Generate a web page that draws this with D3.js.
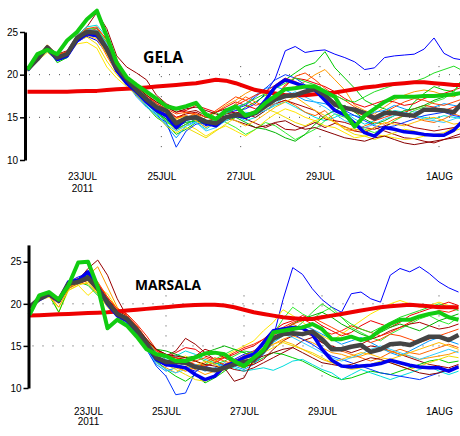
<!DOCTYPE html>
<html>
<head>
<meta charset="utf-8">
<script src="https://cdnjs.cloudflare.com/ajax/libs/d3/7.8.5/d3.min.js"></script>
<style>
body { margin: 0; background: #fff; }
svg { display: block; }
</style>
</head>
<body>
<div class="chart"></div>
<script>
// ---- data ----
var tickDates = [new Date(Date.UTC(2011,6,23)), new Date(Date.UTC(2011,6,25)), new Date(Date.UTC(2011,6,27)),
                 new Date(Date.UTC(2011,6,29)), new Date(Date.UTC(2011,7,1))];
var tickLabels = ["23JUL", "25JUL", "27JUL", "29JUL", "1AUG"];
var yTicks = [10, 15, 20, 25];

var memberColors = ["#0000ff","#990000","#ff9900","#ffe600","#00cc00","#00dddd","#ee0000","#0099ff","#33ee33","#ff6600",
                    "#aa0000","#0033ff","#ff2200","#eedd00","#00b400","#33ccff","#ff4400","#880000","#22dd22","#ffbb00"];

// GELA, 6-hourly from 21 Jul 15z
var gelaMean  = [20.6,21.8,23.2,22.0,22.4,24.3,25.0,24.9,23.0,20.8,19.5,18.2,17.1,16.2,15.8,14.3,14.9,15.0,14.5,14.3,15.0,15.3,15.2,15.5,16.3,17.1,17.5,17.6,18.0,18.3,17.6,16.5,16.1,15.9,15.5,14.9,15.5,15.5,15.3,15.2,15.9,15.9,15.8,15.6,16.9];
var gelaGreen = [20.6,22.4,22.9,22.4,24.0,25.0,26.5,27.5,24.5,21.4,19.7,18.8,18.0,17.2,16.3,16.0,16.3,16.7,15.3,14.8,15.8,16.3,15.2,15.6,16.7,17.5,18.3,18.4,18.6,18.6,18.0,17.4,15.5,13.9,15.2,16.0,16.8,17.4,17.4,17.4,17.5,17.5,17.6,17.7,17.9];
var gelaBlue  = [20.5,22.0,23.0,21.8,22.2,24.0,24.8,24.6,23.0,20.5,19.0,18.0,16.8,15.8,15.2,13.8,14.8,15.0,14.3,14.0,15.0,15.2,15.0,15.6,17.0,18.6,19.4,19.0,18.6,18.2,17.0,15.8,15.3,14.3,13.2,12.8,13.8,13.6,13.3,13.2,13.0,12.9,12.9,13.5,14.7];
var gelaClim  = [18.0,18.0,18.0,18.0,18.0,18.05,18.1,18.1,18.2,18.3,18.35,18.4,18.5,18.6,18.7,18.8,18.9,19.0,19.2,19.4,19.3,19.0,18.6,18.2,18.0,17.8,17.6,17.6,17.6,17.7,17.8,17.9,18.1,18.3,18.5,18.6,18.8,18.9,19.0,19.1,19.1,19.0,18.9,18.8,18.8];
var gelaMembers = [
  [20.7,22.0,23.0,21.6,22.0,23.8,24.5,24.0,22.5,20.6,19.0,18.0,16.8,15.6,14.8,13.6,14.2,14.8,14.0,14.6,15.4,15.8,16.0,16.6,17.8,19.6,22.8,23.3,22.6,22.8,22.9,22.4,22.0,21.5,20.6,20.8,22.0,22.2,22.3,22.4,23.0,24.3,22.5,21.9,21.7],
  [20.9,22.2,23.4,22.4,22.8,24.6,25.6,27.3,25.4,22.2,20.9,20.2,19.4,17.6,16.6,16.0,15.6,15.8,15.2,15.6,16.0,15.4,14.8,14.3,13.8,14.3,13.6,13.5,13.9,14.4,13.8,14.3,13.9,13.4,13.2,13.8,13.4,13.0,12.6,12.5,12.2,12.0,12.4,12.8,13.2],
  [20.8,22.1,23.5,22.3,22.6,24.6,25.3,25.2,23.6,21.2,19.6,18.4,17.0,15.9,15.0,14.8,15.6,15.2,14.2,15.6,16.4,17.0,17.8,18.4,17.6,17.2,18.3,18.6,19.2,20.0,20.6,19.4,18.2,16.4,15.8,15.4,16.2,17.0,17.6,18.0,18.2,18.0,17.6,17.4,18.0],
  [20.4,21.6,22.6,21.7,22.2,23.6,23.8,23.1,20.9,19.6,18.6,17.6,16.8,15.6,14.6,13.4,14.2,13.6,12.8,13.5,14.0,13.4,12.8,13.6,14.6,15.4,16.0,15.6,15.0,14.6,14.0,13.8,13.2,12.6,12.8,13.0,12.8,12.6,12.4,12.5,12.8,13.0,13.2,13.8,14.4],
  [20.6,21.9,23.1,21.4,22.0,24.0,24.6,24.6,22.8,20.6,19.2,17.6,16.3,15.0,14.2,13.0,13.6,14.4,15.0,15.6,14.8,15.4,16.2,16.8,17.6,18.6,19.4,20.2,21.0,21.4,22.7,20.8,19.6,18.4,17.0,16.4,16.0,15.6,15.2,16.8,17.8,18.6,18.2,18.0,19.8],
  [20.6,21.8,23.0,22.2,22.6,24.6,25.6,25.8,24.4,21.6,19.6,18.0,16.6,15.4,14.6,14.0,14.6,14.4,13.6,14.4,15.0,15.2,14.6,15.0,15.8,16.4,16.8,16.2,15.6,15.0,14.6,15.0,15.6,14.8,14.2,14.6,15.2,15.8,15.6,15.2,15.0,14.8,15.2,15.0,14.8],
  [20.8,22.0,23.4,22.2,22.6,24.4,25.0,25.0,23.8,21.4,19.8,18.6,17.6,16.8,16.2,15.6,15.8,16.4,16.0,15.6,16.2,16.8,16.4,16.0,16.6,17.4,18.8,19.6,19.4,19.0,18.6,18.0,17.2,16.6,16.2,16.6,17.0,16.8,16.4,16.6,17.2,17.6,17.8,18.2,18.6],
  [20.5,21.7,22.8,21.9,22.3,24.2,25.2,25.5,23.4,20.4,19.0,17.4,16.2,15.4,14.0,12.6,14.0,14.6,13.8,14.8,15.4,16.2,16.6,17.6,18.4,18.6,18.2,17.6,17.0,16.8,16.6,16.0,15.4,15.2,15.0,15.6,15.8,16.4,16.0,15.6,15.8,16.2,16.6,16.4,16.2],
  [20.5,21.8,23.0,22.0,22.4,24.4,25.4,25.4,23.8,21.2,19.8,18.8,17.4,15.8,14.4,13.8,14.6,15.2,15.6,15.0,14.4,13.8,13.0,13.6,14.4,14.0,13.2,12.4,13.0,13.6,14.6,15.4,15.0,14.2,13.6,13.2,13.8,14.6,15.2,15.8,16.2,16.8,17.2,18.0,19.4],
  [20.7,21.9,23.3,22.4,22.6,24.0,24.8,24.4,22.2,20.2,19.0,18.0,17.0,16.0,15.4,14.6,15.0,15.4,14.6,14.2,15.6,16.6,17.4,16.8,16.2,16.6,17.0,16.4,15.6,15.2,15.8,14.6,13.6,13.4,14.0,14.4,14.2,14.8,15.2,15.0,14.6,14.4,14.8,15.4,15.0],
  [20.6,21.8,23.0,22.0,22.4,24.2,24.8,24.8,23.2,21.0,19.6,18.4,17.4,16.6,16.0,15.0,15.4,15.6,15.0,14.8,15.4,15.6,15.4,15.0,15.8,16.6,17.0,16.6,16.2,15.8,14.8,14.6,14.4,14.0,13.8,13.6,14.0,14.4,14.2,13.8,13.6,13.4,13.6,13.8,14.2],
  [20.6,21.8,23.0,22.0,22.3,24.0,24.6,24.4,22.8,20.6,19.0,17.6,16.4,15.2,14.4,11.5,13.4,14.2,14.4,15.0,15.6,16.0,16.4,17.4,18.4,19.4,20.0,19.6,18.8,18.0,17.2,16.4,15.8,15.2,14.6,14.0,13.8,14.0,14.4,14.8,15.2,15.4,15.6,15.2,15.0],
  [20.7,22.0,23.2,22.2,22.4,24.2,25.0,25.4,24.2,21.8,19.8,18.2,17.2,16.4,15.6,15.0,15.2,14.8,14.4,15.0,15.6,16.4,17.0,17.6,18.0,18.8,19.6,19.2,18.6,18.2,17.6,16.8,16.2,15.6,15.2,14.6,15.0,15.4,15.6,16.0,16.4,16.2,15.8,16.2,16.6],
  [20.5,21.6,22.8,21.8,22.2,24.0,24.4,23.6,21.6,20.0,18.8,17.6,16.4,15.2,14.0,13.2,13.8,13.2,12.6,13.4,14.2,15.0,15.4,15.8,16.0,15.6,15.0,14.4,14.0,14.6,15.0,14.4,13.6,13.0,12.8,12.4,12.8,13.2,13.6,13.4,13.0,12.8,13.0,13.4,13.8],
  [20.6,21.8,23.0,22.0,22.4,24.2,24.8,24.6,23.0,20.8,19.2,17.8,16.6,15.6,14.8,14.0,14.4,14.6,14.2,14.0,14.6,15.0,14.4,13.8,13.6,13.2,12.6,12.2,13.0,14.2,15.2,15.8,16.4,15.6,14.8,14.2,14.6,15.2,15.8,16.0,16.4,17.0,17.4,17.8,17.6],
  [20.6,21.9,23.1,22.1,22.5,24.4,25.2,25.2,23.6,21.0,19.4,17.8,16.4,15.2,14.2,13.4,14.0,14.4,13.4,13.8,14.6,15.2,15.6,15.4,15.8,16.6,17.4,18.0,17.4,16.8,16.2,15.4,14.6,14.2,13.8,14.2,14.8,15.2,15.6,15.2,14.8,14.6,14.4,14.8,15.2],
  [20.8,22.1,23.3,22.3,22.7,24.5,25.4,25.6,24.0,21.4,19.8,18.6,17.6,16.6,16.0,15.4,15.6,15.4,15.0,15.8,16.6,17.4,17.0,16.4,16.8,17.6,18.6,19.8,20.2,19.4,18.4,17.6,17.0,16.2,15.6,15.2,15.6,16.2,16.8,17.2,17.0,16.6,16.4,16.8,17.2],
  [20.6,21.8,23.0,22.0,22.4,24.0,24.6,24.6,23.4,21.4,19.8,18.6,17.6,16.8,16.2,15.6,16.0,16.2,15.8,15.4,15.0,14.6,14.2,13.8,14.0,14.4,14.6,14.0,13.6,13.8,13.4,13.0,12.6,12.4,12.2,12.6,12.8,12.4,12.0,11.8,12.0,12.2,12.4,12.6,12.8],
  [20.6,21.9,23.0,22.1,22.5,24.3,25.0,24.8,22.8,20.4,19.0,17.8,16.8,15.6,14.6,13.6,14.2,14.8,14.4,14.8,15.4,16.0,16.6,17.2,17.8,18.4,19.0,19.6,19.2,18.8,18.2,17.6,17.0,16.8,17.4,18.0,18.4,18.8,19.0,19.2,19.6,20.2,20.6,21.0,20.4],
  [20.4,21.7,22.9,21.9,22.3,24.1,24.6,24.2,22.4,20.4,19.2,18.2,17.2,16.2,15.4,14.8,15.2,14.6,13.8,14.4,15.0,14.6,14.0,14.6,15.4,16.2,16.8,17.4,16.6,15.8,15.2,14.4,13.8,13.6,13.4,13.8,14.4,14.2,14.0,14.4,14.8,15.0,14.6,14.2,14.4]
];

// MARSALA, 6-hourly from 21 Jul 12z
var marsMean  = [19.6,20.6,21.2,20.4,22.4,22.6,23.1,21.8,20.2,18.8,18.2,16.9,15.3,13.6,13.1,13.1,13.0,12.5,12.3,12.1,12.4,12.8,13.1,13.3,14.4,15.9,16.4,16.5,16.4,16.7,15.8,14.6,14.6,14.9,15.1,14.3,14.6,15.2,15.3,15.1,15.6,16.1,16.1,15.7,16.3];
var marsGreen = [18.7,21.0,21.4,20.5,22.2,24.9,25.0,22.0,17.1,18.1,17.4,16.1,14.6,14.0,13.8,13.2,13.2,13.6,14.1,14.2,14.0,13.2,12.6,13.6,14.5,16.6,16.8,17.0,17.2,17.6,17.0,15.8,15.8,16.1,15.7,16.0,16.9,17.6,18.1,18.1,18.5,18.8,19.0,18.4,18.1];
var marsBlue  = [19.7,20.5,21.1,20.3,22.6,22.8,23.8,22.0,20.0,18.6,18.0,16.6,15.0,13.4,12.8,12.6,12.4,11.6,11.0,11.4,12.6,13.0,13.6,14.0,15.4,16.8,17.0,17.2,17.1,16.4,14.6,13.3,12.6,12.5,12.6,12.7,12.9,13.3,13.0,12.7,12.5,12.4,12.4,12.0,12.5];
var marsClim  = [18.6,18.65,18.7,18.75,18.8,18.85,18.9,18.95,19.0,19.1,19.2,19.3,19.4,19.5,19.6,19.7,19.8,19.85,19.9,19.9,19.8,19.6,19.3,19.0,18.8,18.6,18.4,18.3,18.2,18.2,18.4,18.6,18.8,19.0,19.2,19.4,19.6,19.7,19.8,19.9,19.8,19.7,19.6,19.6,19.6];
var marsMembers = [
  [19.8,20.7,21.3,20.4,22.6,23.2,23.6,22.0,20.0,18.6,17.8,16.4,14.8,13.2,12.6,12.8,12.4,12.0,12.6,13.0,12.6,13.4,14.0,14.4,15.2,16.0,20.5,24.3,23.5,21.8,20.5,19.6,19.0,21.2,21.4,20.6,20.2,23.4,24.2,23.8,24.4,23.6,22.6,21.9,21.4],
  [19.6,20.5,21.0,20.2,22.0,22.8,24.2,25.2,23.4,20.6,18.5,16.6,15.6,14.6,13.8,14.4,15.9,15.2,14.2,13.4,12.6,12.2,12.0,12.4,13.0,13.6,14.2,14.8,15.6,16.0,15.4,15.0,14.6,14.2,14.6,15.0,14.8,14.4,14.0,13.6,13.2,12.8,12.6,12.4,12.8],
  [19.7,20.6,21.1,20.3,22.4,23.0,23.4,24.4,22.0,19.6,18.4,16.8,14.8,13.0,12.4,11.8,12.6,12.2,11.6,12.0,12.8,13.4,13.2,13.6,14.4,15.2,15.8,16.2,15.8,15.4,14.8,14.2,14.0,13.6,13.8,14.2,14.6,14.4,14.0,13.8,13.4,13.6,13.8,14.0,14.4],
  [19.8,20.8,21.4,19.0,21.6,22.2,21.0,22.0,21.2,19.4,18.0,16.6,15.0,13.4,12.8,13.4,13.8,13.2,12.6,13.2,13.8,14.4,15.0,15.6,16.8,17.8,19.3,18.6,17.8,17.0,16.2,15.6,16.4,17.2,18.0,18.8,19.4,20.0,20.4,20.0,19.6,19.8,20.2,19.8,19.6],
  [19.5,20.4,21.0,19.0,21.8,22.6,22.2,21.0,19.8,18.6,17.8,16.6,15.0,13.2,12.2,11.4,10.8,11.6,10.6,11.2,12.0,12.8,12.4,13.0,13.6,14.2,14.0,13.6,13.2,12.6,12.0,11.4,11.0,11.2,11.6,12.0,11.8,11.6,12.0,12.4,12.8,13.2,13.4,13.0,13.2],
  [19.6,20.5,21.1,20.3,22.2,22.8,23.0,21.6,19.8,18.4,17.8,16.8,15.6,14.2,13.4,13.8,14.4,14.0,13.4,13.0,12.6,12.4,12.0,12.2,12.4,12.1,12.6,13.2,13.4,12.8,12.2,11.8,11.0,11.6,12.2,11.8,11.4,11.0,11.4,11.8,12.2,12.6,12.0,11.6,12.0],
  [19.7,20.7,21.3,20.5,22.6,22.8,23.4,22.4,20.6,19.2,18.6,17.2,15.6,14.0,13.6,14.2,14.8,14.6,13.8,13.4,13.6,14.0,14.6,15.0,15.8,16.8,17.6,18.0,18.6,18.2,17.4,16.8,16.2,16.6,17.4,18.0,17.6,17.2,17.8,18.6,19.0,19.4,19.8,20.2,19.8],
  [19.6,20.6,21.2,20.4,22.4,22.6,23.2,22.0,20.2,18.8,18.0,16.4,14.6,12.8,12.0,12.4,13.0,12.6,12.0,12.4,13.0,12.6,12.2,12.8,14.0,15.4,16.2,16.8,17.4,17.0,16.4,15.8,15.2,15.6,16.0,15.4,14.8,14.2,13.8,14.4,15.0,15.6,16.0,15.6,15.2],
  [19.7,20.6,21.2,20.5,22.4,22.8,23.0,21.8,20.4,19.0,18.4,17.2,15.6,14.2,13.8,13.4,13.0,12.6,12.8,13.4,14.0,14.6,14.2,13.8,14.6,16.4,18.2,19.6,18.8,18.2,19.0,19.6,18.4,17.2,16.6,16.0,15.6,16.4,17.0,17.6,18.2,18.6,18.0,17.6,18.4],
  [19.6,20.5,21.0,19.6,21.8,22.4,22.8,21.4,20.0,18.8,18.0,16.8,15.2,13.8,13.2,12.6,12.0,12.4,13.0,13.6,13.2,12.8,12.4,13.0,14.2,15.6,16.8,17.6,17.0,16.4,15.6,14.8,14.4,14.0,13.6,13.2,13.6,14.2,14.6,14.2,14.0,14.4,14.8,15.2,14.8],
  [19.7,20.6,21.2,20.4,22.2,22.6,23.0,22.0,20.6,19.2,18.6,17.4,15.8,14.4,13.8,13.6,13.4,13.8,14.6,14.2,13.6,13.0,12.6,12.8,13.4,14.6,15.6,16.2,16.6,16.2,15.4,14.8,14.4,14.8,15.2,15.8,16.2,16.8,17.2,17.6,17.8,17.4,17.0,17.2,17.6],
  [19.6,20.5,21.1,20.3,22.4,22.8,23.6,22.2,20.0,18.4,17.6,16.2,14.6,12.6,11.4,9.2,9.4,11.9,12.6,12.2,12.6,13.2,13.8,14.2,15.0,16.0,16.8,16.4,15.8,15.2,14.4,13.8,13.4,13.0,12.6,12.2,11.8,11.6,11.4,11.2,11.0,11.4,11.8,12.2,12.6],
  [19.8,20.7,21.3,20.5,22.6,23.0,23.6,22.4,20.8,19.4,18.8,17.6,16.2,14.6,14.0,13.6,13.2,12.8,12.6,13.0,13.6,14.2,14.8,15.2,15.8,16.6,17.2,17.8,18.2,17.6,16.8,16.4,16.8,17.4,17.0,16.6,16.2,16.6,17.2,17.8,18.4,18.8,19.2,19.0,19.4],
  [19.5,20.4,20.8,19.6,21.6,22.2,22.6,21.2,19.6,18.4,17.8,16.6,15.2,13.6,12.8,12.2,11.6,11.0,10.8,11.4,12.2,12.8,13.4,13.8,14.2,14.8,15.4,15.0,14.6,14.2,13.6,13.0,12.6,12.2,12.4,12.8,13.2,13.0,12.6,12.2,12.6,13.0,13.4,13.8,13.6],
  [19.7,20.6,21.2,20.4,22.4,22.8,23.4,22.0,20.2,18.8,18.2,17.2,15.8,14.6,14.4,14.0,13.6,13.8,14.2,14.6,15.0,14.6,14.2,13.8,14.4,15.6,16.8,17.6,18.2,18.6,19.0,18.4,17.6,17.0,16.4,16.0,16.6,17.2,17.6,17.2,16.8,17.4,18.0,18.4,18.8],
  [19.6,20.5,21.1,20.3,22.2,22.6,23.0,21.6,19.8,18.6,17.8,16.4,14.6,13.0,12.2,11.8,12.2,12.8,12.4,12.0,12.4,13.0,13.6,14.0,14.8,15.8,16.4,16.0,15.4,14.8,14.2,13.6,13.2,13.6,14.0,14.6,15.0,14.6,14.2,13.8,13.4,13.8,14.2,14.6,14.2],
  [19.7,20.7,21.3,20.5,22.6,23.0,23.8,22.6,20.8,19.4,18.6,17.4,15.8,14.4,13.8,13.2,12.8,13.2,13.6,13.2,12.8,13.2,13.8,14.4,15.2,16.2,17.0,17.6,18.0,18.4,17.8,17.2,16.6,16.2,15.8,15.4,15.8,16.4,16.2,15.8,15.4,15.8,16.2,16.6,17.0],
  [19.6,20.5,21.1,20.3,22.0,22.4,22.8,21.6,20.2,19.0,18.4,17.2,15.8,14.6,14.0,13.8,13.6,13.2,12.8,12.6,12.4,10.8,11.2,13.4,13.8,14.2,14.6,14.8,14.2,13.6,13.0,12.8,12.6,12.8,13.2,13.6,13.4,13.0,12.6,12.2,11.8,11.6,11.8,12.2,12.6],
  [19.6,20.6,21.2,20.4,22.2,22.6,23.2,21.8,20.0,18.6,18.0,16.8,15.2,13.8,13.2,13.0,13.4,13.8,13.2,12.8,13.2,13.8,14.4,14.2,14.8,15.6,16.2,16.8,17.8,19.0,20.0,19.2,18.4,17.6,17.0,16.6,17.2,17.8,18.4,18.8,19.2,19.6,20.0,19.6,19.2],
  [19.5,20.4,21.0,20.0,22.0,22.4,22.4,21.2,19.8,18.6,18.0,16.8,15.4,13.8,13.0,12.4,12.0,12.6,13.2,12.8,12.2,12.6,13.4,14.0,14.8,15.2,15.6,15.2,14.6,14.0,13.4,13.0,13.4,13.8,14.2,14.0,13.6,13.4,13.8,14.2,14.6,15.0,15.4,15.0,14.6]
];

// ---- layout ----
var width = 460, height = 436;
var STEP = 6 * 3600 * 1000;

var panels = [
  {name: "GELA", start: Date.UTC(2011,6,21,15), xRange: [82, 439], yDomain: [10, 25], yRange: [160, 32],
   axisX: 25, labelY: 173, yearDy: "1.2em", titleX: 143, titleY: 63, titleSize: 16, titleLen: 40,
   mean: gelaMean, green: gelaGreen, blue: gelaBlue, clim: gelaClim, members: gelaMembers},
  {name: "MARSALA", start: Date.UTC(2011,6,21,12), xRange: [88, 439], yDomain: [10, 27], yRange: [388, 244.9],
   axisX: 28.5, labelY: 408, yearDy: "1.0em", titleX: 135, titleY: 290, titleSize: 14, titleLen: 66,
   mean: marsMean, green: marsGreen, blue: marsBlue, clim: marsClim, members: marsMembers}
];

var svg = d3.select(".chart")
            .append("svg")
            .attr("width", width)
            .attr("height", height);

panels.forEach(drawPanel);

function drawPanel(p) {
  var x = d3.scaleUtc()
            .domain([tickDates[0], tickDates[tickDates.length - 1]])
            .range(p.xRange);
  var y = d3.scaleLinear()
            .domain(p.yDomain)
            .range(p.yRange);

  var line = d3.line()
               .x(function(d, i) { return x(new Date(p.start + i * STEP)); })
               .y(function(d) { return y(d); });

  var g = svg.append("g").attr("class", "panel");

  // faint dotted grid
  var grid = g.append("g").attr("class", "grid")
              .attr("stroke", "#000").attr("stroke-width", 1)
              .attr("stroke-dasharray", "1,9").attr("opacity", 0.7);
  grid.selectAll("line.v")
      .data(tickDates.slice(1))
      .enter().append("line")
      .attr("x1", function(d) { return x(d); })
      .attr("x2", function(d) { return x(d); })
      .attr("y1", y(21)).attr("y2", y(11));
  grid.selectAll("line.h")
      .data([15, 20])
      .enter().append("line")
      .attr("x1", p.axisX + 4).attr("x2", width)
      .attr("y1", function(d) { return y(d); })
      .attr("y2", function(d) { return y(d); });

  // ensemble members
  g.append("g").attr("class", "members")
    .selectAll("path")
    .data(p.members)
    .enter().append("path")
    .attr("d", line)
    .attr("fill", "none")
    .attr("stroke", function(d, i) { return memberColors[i % memberColors.length]; })
    .attr("stroke-width", 1);

  var thick = [
    {data: p.clim,  color: "#ee0000", w: 4},
    {data: p.blue,  color: "#0000ee", w: 3.5},
    {data: p.mean,  color: "#444444", w: 4.5},
    {data: p.green, color: "#11cc11", w: 4}
  ];
  g.append("g").attr("class", "thick")
    .selectAll("path")
    .data(thick)
    .enter().append("path")
    .attr("d", function(d) { return line(d.data); })
    .attr("fill", "none")
    .attr("stroke", function(d) { return d.color; })
    .attr("stroke-width", function(d) { return d.w; })
    .attr("stroke-linejoin", "round");

  // y axis
  var yAxis = d3.axisLeft(y)
                .tickValues(yTicks)
                .tickSize(5)
                .tickSizeOuter(0)
                .tickPadding(2);
  var ya = g.append("g")
            .attr("transform", "translate(" + p.axisX + ",0)")
            .call(yAxis);
  ya.select(".domain").attr("stroke-width", 3);
  ya.selectAll(".tick line").attr("stroke-width", 1.5);
  ya.selectAll("text")
    .attr("font-family", "'Liberation Sans', Arial, sans-serif")
    .attr("font-size", 10)
    .attr("fill", "#000");

  // date labels
  var xAxis = d3.axisBottom(x)
                .tickValues(tickDates)
                .tickFormat(function(d, i) { return tickLabels[i]; })
                .tickSize(0)
                .tickPadding(0);
  var xa = g.append("g")
            .attr("transform", "translate(0," + p.labelY + ")")
            .call(xAxis);
  xa.select(".domain").remove();
  xa.selectAll("text")
    .attr("font-family", "'Liberation Sans', Arial, sans-serif")
    .attr("font-size", 10)
    .attr("fill", "#000");
  xa.select(".tick text")
    .append("tspan")
    .attr("x", 0)
    .attr("dy", p.yearDy)
    .text("2011");

  // station name
  g.append("text")
    .attr("x", p.titleX)
    .attr("y", p.titleY)
    .attr("font-family", "'Open Sans', 'Liberation Sans', sans-serif")
    .attr("font-weight", "bold")
    .attr("font-size", p.titleSize)
    .attr("textLength", p.titleLen)
    .attr("lengthAdjust", "spacingAndGlyphs")
    .attr("fill", "#000")
    .text(p.name);
}
</script>
</body>
</html>
